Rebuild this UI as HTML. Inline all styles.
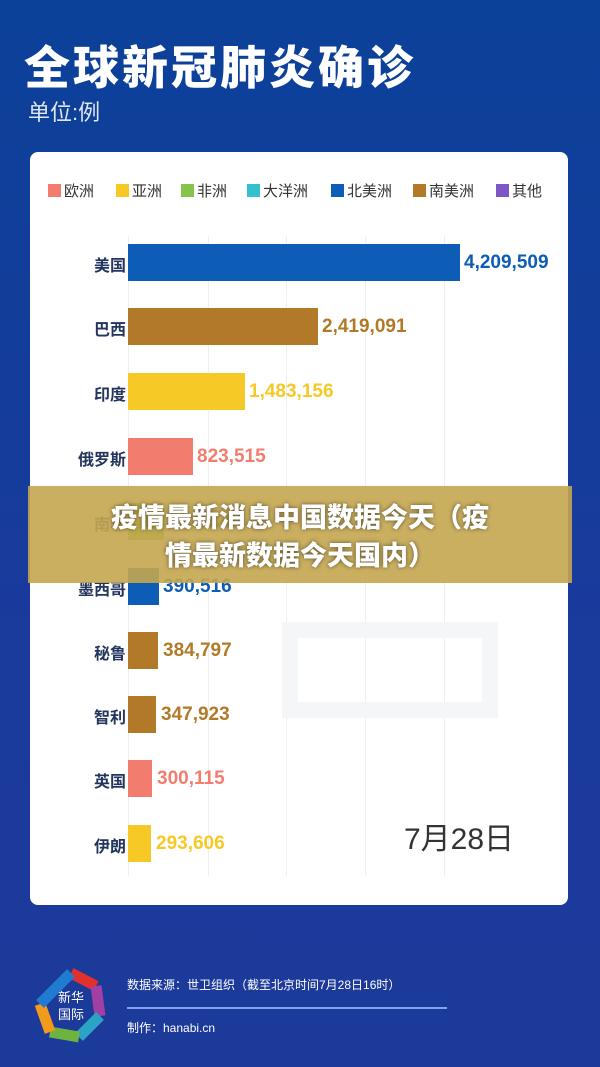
<!DOCTYPE html>
<html><head><meta charset="utf-8"><style>
*{margin:0;padding:0;box-sizing:border-box}
body{width:600px;height:1067px;background:linear-gradient(#0b4199,#1a3a9c 60%,#1c3a9a);font-family:"Liberation Sans","Noto Sans CJK SC",sans-serif;position:relative;overflow:hidden}
.a{position:absolute}
.card{left:30px;top:152px;width:538px;height:753px;background:#fff;border-radius:8px}
.title{left:24px;top:42px;font-size:46px;font-weight:900;color:#fff;letter-spacing:3px;line-height:52px}
.unit{left:28px;top:95px;font-size:22px;color:#dfe6f5}
.leg{top:180px;font-size:15px;color:#333;display:flex;align-items:center}
.leg i{display:inline-block;width:13px;height:13px;margin-right:3px}
.grid{top:236px;width:1px;height:640px;background:#eceef2}
.lab{left:70px;width:56px;text-align:right;font-size:16px;font-weight:bold;color:#23355e}
.bar{left:128px;height:37px}
.val{font-size:19px;font-weight:bold}
.band{left:28px;top:486px;width:544px;height:97px;background:rgba(196,166,80,0.9)}
.bt{left:28px;width:544px;text-align:center;color:#fff;font-size:27px;font-weight:900;text-shadow:0 0 4px rgba(0,0,0,.55)}
</style></head><body>
<div class="a title">全球新冠肺炎确诊</div>
<div class="a unit">单位:例</div>
<div class="a card"></div>
<div class="a leg" style="left:48px"><i style="background:#f27d6e"></i>欧洲</div>
<div class="a leg" style="left:116px"><i style="background:#f6c926"></i>亚洲</div>
<div class="a leg" style="left:181px"><i style="background:#86c34a"></i>非洲</div>
<div class="a leg" style="left:247px"><i style="background:#35c0d0"></i>大洋洲</div>
<div class="a leg" style="left:331px"><i style="background:#0d5cb5"></i>北美洲</div>
<div class="a leg" style="left:413px"><i style="background:#b27a28"></i>南美洲</div>
<div class="a leg" style="left:496px"><i style="background:#7d57c7"></i>其他</div>
<div class="a grid" style="left:128px"></div><div class="a grid" style="left:208px"></div><div class="a grid" style="left:286px"></div><div class="a grid" style="left:365px"></div><div class="a grid" style="left:444px"></div>
<svg class="a" style="left:280px;top:600px" width="240" height="140"><path d="M10 30 h200 v80 h-200z" fill="none" stroke="#f5f6f8" stroke-width="16"/></svg>

<div class="a lab" style="top:252px">美国</div><div class="a bar" style="top:244px;width:332px;background:#0d5cb5"></div><div class="a val" style="left:464px;top:252px;color:#0d5cb5">4,209,509</div>
<div class="a lab" style="top:316px">巴西</div><div class="a bar" style="top:308px;width:190px;background:#b27a28"></div><div class="a val" style="left:322px;top:316px;color:#b27a28">2,419,091</div>
<div class="a lab" style="top:381px">印度</div><div class="a bar" style="top:373px;width:117px;background:#f6c926"></div><div class="a val" style="left:249px;top:381px;color:#f6c926">1,483,156</div>
<div class="a lab" style="top:446px">俄罗斯</div><div class="a bar" style="top:438px;width:65px;background:#f27d6e"></div><div class="a val" style="left:197px;top:446px;color:#f27d6e">823,515</div>
<div class="a lab" style="top:511px">南非</div><div class="a bar" style="top:503px;width:36px;background:#86c34a"></div><div class="a val" style="left:168px;top:511px;color:#86c34a">452,529</div>
<div class="a lab" style="top:576px">墨西哥</div><div class="a bar" style="top:568px;width:31px;background:#0d5cb5"></div><div class="a val" style="left:163px;top:576px;color:#0d5cb5">390,516</div>
<div class="a lab" style="top:640px">秘鲁</div><div class="a bar" style="top:632px;width:30px;background:#b27a28"></div><div class="a val" style="left:163px;top:640px;color:#b27a28">384,797</div>
<div class="a lab" style="top:704px">智利</div><div class="a bar" style="top:696px;width:28px;background:#b27a28"></div><div class="a val" style="left:161px;top:704px;color:#b27a28">347,923</div>
<div class="a lab" style="top:768px">英国</div><div class="a bar" style="top:760px;width:24px;background:#f27d6e"></div><div class="a val" style="left:157px;top:768px;color:#f27d6e">300,115</div>
<div class="a lab" style="top:833px">伊朗</div><div class="a bar" style="top:825px;width:23px;background:#f6c926"></div><div class="a val" style="left:156px;top:833px;color:#f6c926">293,606</div>
<div class="a" style="left:404px;top:814px;font-size:30px;color:#333">7月28日</div>

<div class="a band"></div>
<div class="a bt" style="top:496px">疫情最新消息中国数据今天（疫</div>
<div class="a bt" style="top:534px">情最新数据今天国内）</div>

<svg class="a" style="left:33px;top:966px" width="76" height="78" viewBox="0 0 76 78">
<g fill="none" stroke-width="11">
<path d="M38 7 L63 20" stroke="#e0312f"/><path d="M63 20 L67 50" stroke="#a23fa5"/><path d="M67 50 L46 71" stroke="#2aa3c4"/><path d="M46 71 L17 66" stroke="#6cb43f"/><path d="M17 66 L7 38" stroke="#f29a1b"/><path d="M7 38 L38 7" stroke="#1f7cd0"/></g>
<text x="38" y="36" fill="#fff" font-size="13" text-anchor="middle" font-family="Noto Sans CJK SC,sans-serif">新华</text>
<text x="38" y="53" fill="#fff" font-size="13" text-anchor="middle" font-family="Noto Sans CJK SC,sans-serif">国际</text></svg>
<div class="a" style="left:127px;top:976px;font-size:12px;color:#fff">数据来源：世卫组织（截至北京时间7月28日16时）</div>
<div class="a" style="left:127px;top:1007px;width:320px;height:2px;background:#7fa3f0"></div>
<div class="a" style="left:127px;top:1019px;font-size:12px;color:#fff">制作：hanabi.cn</div>
</body></html>
